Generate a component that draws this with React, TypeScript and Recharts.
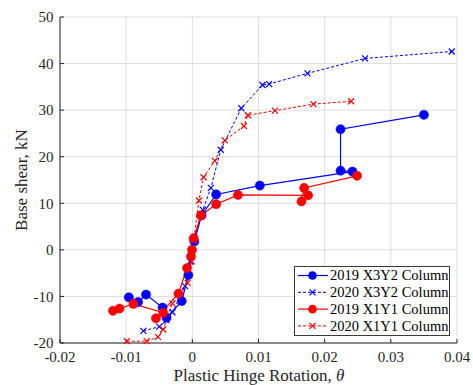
import React from 'react';
import { LineChart, Line, XAxis, YAxis, CartesianGrid, Legend } from 'recharts';

// 2019 X3Y2 Column (blue, solid, circles)
const x3y2_2019_x = [-0.0096, -0.0082, -0.0070, -0.0045, -0.0039, -0.0016, -0.0006, 0.0003, 0.0014, 0.0036, 0.0102, 0.0242, 0.0224, 0.0224, 0.0350];
const x3y2_2019_y = [-10.2, -11.2, -9.6, -12.4, -14.6, -11.0, -5.4, 1.8, 7.4, 11.9, 13.8, 16.8, 17.0, 25.9, 29.0];

// 2020 X3Y2 Column (blue, dashed, crosses)
const x3y2_2020_x = [-0.0074, -0.0050, -0.0039, -0.0030, -0.0011, -0.0003, 0.0003, 0.0016, 0.0028, 0.0043, 0.0074, 0.0106, 0.0116, 0.0174, 0.0261, 0.0392];
const x3y2_2020_y = [-17.4, -16.5, -15.1, -13.4, -7.8, -2.5, 2.5, 8.6, 13.3, 21.5, 30.4, 35.4, 35.6, 37.9, 41.1, 42.6];

// 2019 X1Y1 Column (red, solid, circles)
const x1y1_2019_x = [-0.0120, -0.0110, -0.0089, -0.0044, -0.0055, -0.0021, -0.0008, -0.0002, -0.00005, 0.0002, 0.0013, 0.0036, 0.0069, 0.0175, 0.0165, 0.0169, 0.0249];
const x1y1_2019_y = [-13.1, -12.6, -11.6, -13.5, -14.7, -9.4, -3.9, -1.4, 0.0, 2.5, 7.4, 9.8, 11.8, 11.7, 10.4, 13.3, 15.9];

// 2020 X1Y1 Column (red, dashed, crosses)
const x1y1_2020_x = [-0.0099, -0.0069, -0.0052, -0.0044, -0.0030, -0.0007, -0.0001, 0.0002, 0.0010, 0.0017, 0.0034, 0.0049, 0.0078, 0.0084, 0.0125, 0.0183, 0.0240];
const x1y1_2020_y = [-19.6, -19.6, -18.7, -17.1, -11.5, -7.1, -2.5, 2.0, 10.6, 15.6, 19.1, 23.5, 26.6, 28.9, 29.9, 31.3, 31.9];

const xTicks = [-0.02, -0.01, 0, 0.01, 0.02, 0.03, 0.04];
const yTicks = [-20, -10, 0, 10, 20, 30, 40, 50];

const legendLabels = ['2019 X3Y2 Column', '2020 X3Y2 Column', '2019 X1Y1 Column', '2020 X1Y1 Column'];

const zip = (xs: number[], ys: number[]) => xs.map((x, i) => ({ x, y: ys[i] }));

const BLUE = '#0000ff';
const RED = '#ff0000';
const FONT = "'Liberation Serif', 'Times New Roman', serif";
const AXIS = '#262626';

const circleDot = (color: string) => (p: any) => (
  <circle key={`c-${p.index}`} cx={p.cx} cy={p.cy} r={4.6} fill={color} stroke={color} strokeWidth={0.5} />
);
const crossDot = (color: string) => (p: any) => (
  <path
    key={`x-${p.index}`}
    d={`M${p.cx - 3},${p.cy - 3}L${p.cx + 3},${p.cy + 3}M${p.cx - 3},${p.cy + 3}L${p.cx + 3},${p.cy - 3}`}
    stroke={color}
    strokeWidth={1.2}
    fill="none"
  />
);

const legendStyles = [
  { color: BLUE, dashed: false, marker: 'circle' },
  { color: BLUE, dashed: true, marker: 'cross' },
  { color: RED, dashed: false, marker: 'circle' },
  { color: RED, dashed: true, marker: 'cross' },
];

const LegendBox = () => (
  <svg width={157} height={71} style={{ display: 'block' }}>
    <rect x={0.5} y={0.5} width={155} height={69} fill="#fff" stroke="#3a3a3a" strokeWidth={1} />
    {legendLabels.map((label, i) => {
      const cy = 9.5 + i * 16.8;
      const s = legendStyles[i];
      return (
        <g key={label}>
          <line x1={4} x2={34} y1={cy} y2={cy} stroke={s.color} strokeWidth={s.dashed ? 1 : 1.2} strokeDasharray={s.dashed ? '3 2' : undefined} />
          {s.marker === 'circle' ? (
            <circle cx={18.5} cy={cy} r={4.3} fill={s.color} />
          ) : (
            <path d={`M${15.5},${cy - 3}L${21.5},${cy + 3}M${15.5},${cy + 3}L${21.5},${cy - 3}`} stroke={s.color} strokeWidth={1.2} />
          )}
          <text x={36} y={cy + 4.8} style={{ fontFamily: FONT, fontSize: 14.5 }} fill="#000">{label}</text>
        </g>
      );
    })}
  </svg>
);

const tickStyle = { fontFamily: FONT, fontSize: 15, fill: AXIS, style: { fontFamily: FONT, fontSize: 15 } };

export default function App() {
  return (
    <div style={{ position: 'absolute', left: 0, top: 0, width: 473, height: 385, background: '#fff', fontFamily: FONT }}>
      <LineChart width={473} height={385} margin={{ top: 17, right: 16, bottom: 12, left: 0 }} style={{ fontFamily: FONT }}>
        <CartesianGrid stroke="#dedede" strokeWidth={1} />
        <XAxis
          type="number"
          dataKey="x"
          domain={[-0.02, 0.04]}
          ticks={xTicks}
          height={30}
          tickSize={-4}
          tickMargin={12}
          stroke={AXIS}
          tick={tickStyle}
          interval={0}
          label={() => (
            <text x={259} y={381} textAnchor="middle" style={{ fontFamily: FONT, fontSize: 17 }} fill={AXIS}>
              Plastic Hinge Rotation, <tspan fontStyle="italic">θ</tspan>
            </text>
          )}
        />
        <YAxis
          type="number"
          domain={[-20, 50]}
          ticks={yTicks}
          width={60}
          tickSize={-4}
          tickMargin={10.5}
          stroke={AXIS}
          tick={tickStyle}
          interval={0}
          label={() => (
            <text x={26.5} y={180} transform="rotate(-90, 26.5, 180)" textAnchor="middle" style={{ fontFamily: FONT, fontSize: 17 }} fill={AXIS}>
              Base shear, kN
            </text>
          )}
        />
        <Line data={zip(x3y2_2019_x, x3y2_2019_y)} dataKey="y" name={legendLabels[0]} type="linear" stroke={BLUE} strokeWidth={1.2} dot={circleDot(BLUE)} activeDot={false} isAnimationActive={false} />
        <Line data={zip(x3y2_2020_x, x3y2_2020_y)} dataKey="y" name={legendLabels[1]} type="linear" stroke={BLUE} strokeWidth={1} strokeDasharray="3 2" dot={crossDot(BLUE)} activeDot={false} isAnimationActive={false} />
        <Line data={zip(x1y1_2019_x, x1y1_2019_y)} dataKey="y" name={legendLabels[2]} type="linear" stroke={RED} strokeWidth={1.2} dot={circleDot(RED)} activeDot={false} isAnimationActive={false} />
        <Line data={zip(x1y1_2020_x, x1y1_2020_y)} dataKey="y" name={legendLabels[3]} type="linear" stroke={RED} strokeWidth={1} strokeDasharray="3 2" dot={crossDot(RED)} activeDot={false} isAnimationActive={false} />
        <Legend
          layout="vertical"
          align="center"
          verticalAlign="middle"
          content={() => <LegendBox />}
          wrapperStyle={{ position: 'absolute', left: 294, top: 266, width: 157, height: 71, margin: 0, padding: 0 }}
        />
      </LineChart>
    </div>
  );
}
